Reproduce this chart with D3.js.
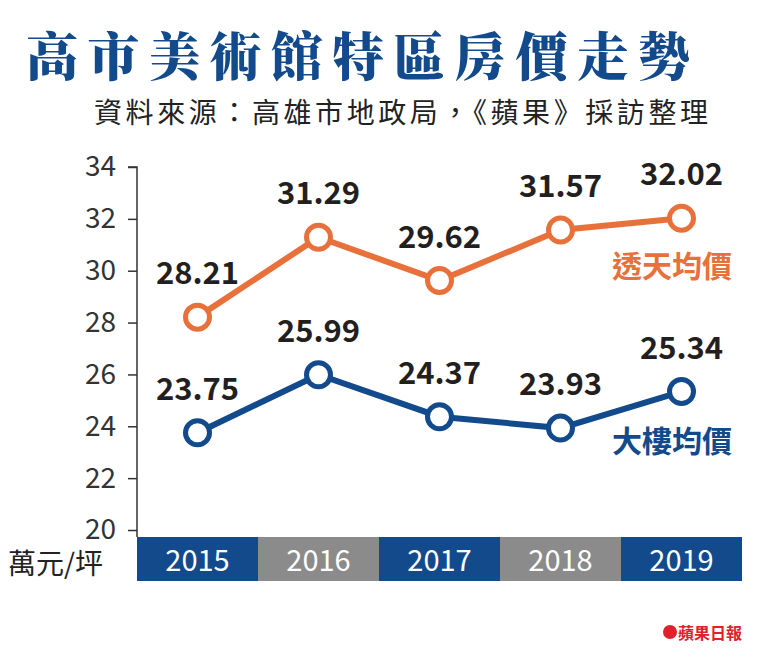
<!DOCTYPE html>
<html><head><meta charset="utf-8">
<script src="https://cdn.jsdelivr.net/npm/d3@7"></script>
<style>body{margin:0;background:#fff}</style>
</head><body><svg id="c" width="760" height="662"></svg>
<script>
// 資料
const years = ['2015', '2016', '2017', '2018', '2019'];
const townhouse = [28.21, 31.29, 29.62, 31.57, 32.02];
const building = [23.75, 25.99, 24.37, 23.93, 25.34];
const yTicks = [20, 22, 24, 26, 28, 30, 32, 34];

const svg = d3.select('#c');
const font = '"Noto Sans CJK TC", "Noto Sans", sans-serif';
const blue = '#124a8c', orange = '#e8713b';

svg.append('text').attr('x', 26).attr('y', 76)
  .style('font-family', '"Noto Serif CJK TC", "Noto Sans CJK TC", serif')
  .style('font-weight', 900).style('font-size', '52px').attr('fill', blue)
  .attr('textLength', 664).text('高市美術館特區房價走勢');
svg.append('text').attr('x', 94).attr('y', 123)
  .style('font-family', font).style('font-size', '28px').attr('fill', '#222')
  .attr('textLength', 614).text('資料來源：高雄市地政局，《蘋果》採訪整理');

const x = d3.scaleBand().domain(years).range([137, 742]);
const y = d3.scaleLinear().domain([20, 34]).range([530, 167]);

// x 軸色塊
svg.selectAll('.band').data(years).enter().append('rect')
  .attr('x', d => x(d)).attr('y', 537).attr('width', x.bandwidth()).attr('height', 44)
  .attr('fill', (d, i) => i % 2 ? '#8b8b8b' : blue);
svg.selectAll('.yr').data(years).enter().append('text')
  .attr('x', d => x(d) + x.bandwidth() / 2).attr('y', 571).attr('text-anchor', 'middle')
  .style('font-family', font).style('font-size', '29px').attr('fill', '#fff').text(d => d);

// y 軸
const ya = svg.append('g').attr('transform', 'translate(137,0)')
  .call(d3.axisLeft(y).tickValues(yTicks).tickSize(9).tickPadding(12));
ya.select('.domain').attr('stroke', '#333').attr('stroke-width', 1.5).attr('d', 'M-9,167H0V537');
ya.selectAll('line').attr('stroke', '#333').attr('stroke-width', 1.5);
ya.selectAll('text').style('font-family', font).style('font-size', '28px').attr('fill', '#333');

svg.append('text').attr('x', 8).attr('y', 574)
  .style('font-family', font).style('font-size', '28px').attr('fill', '#222').text('萬元/坪');

const cx = d => x(d) + x.bandwidth() / 2;
function series(vals, color, name, ny) {
  const pts = years.map((d, i) => [cx(d), y(vals[i]), vals[i]]);
  svg.append('path').attr('d', d3.line()(pts)).attr('fill', 'none')
    .attr('stroke', color).attr('stroke-width', 6);
  svg.selectAll(null).data(pts).enter().append('circle')
    .attr('cx', d => d[0]).attr('cy', d => d[1]).attr('r', 12)
    .attr('fill', '#fff').attr('stroke', color).attr('stroke-width', 5);
  svg.selectAll(null).data(pts).enter().append('text')
    .attr('x', d => d[0]).attr('y', d => d[1] - 33).attr('text-anchor', 'middle')
    .style('font-family', font).style('font-weight', 700).style('font-size', '31px')
    .attr('fill', '#231f20').text(d => d[2].toFixed(2));
  svg.append('text').attr('x', 672).attr('y', ny).attr('text-anchor', 'middle')
    .style('font-family', font).style('font-weight', 700).style('font-size', '30px')
    .attr('fill', color).text(name);
}
series(townhouse, orange, '透天均價', 277);
series(building, blue, '大樓均價', 452);

svg.append('circle').attr('cx', 670).attr('cy', 632).attr('r', 7).attr('fill', '#e0202a');
svg.append('text').attr('x', 678).attr('y', 639)
  .style('font-family', font).style('font-weight', 700).style('font-size', '16px')
  .attr('fill', '#e0202a').text('蘋果日報');
</script></body></html>
